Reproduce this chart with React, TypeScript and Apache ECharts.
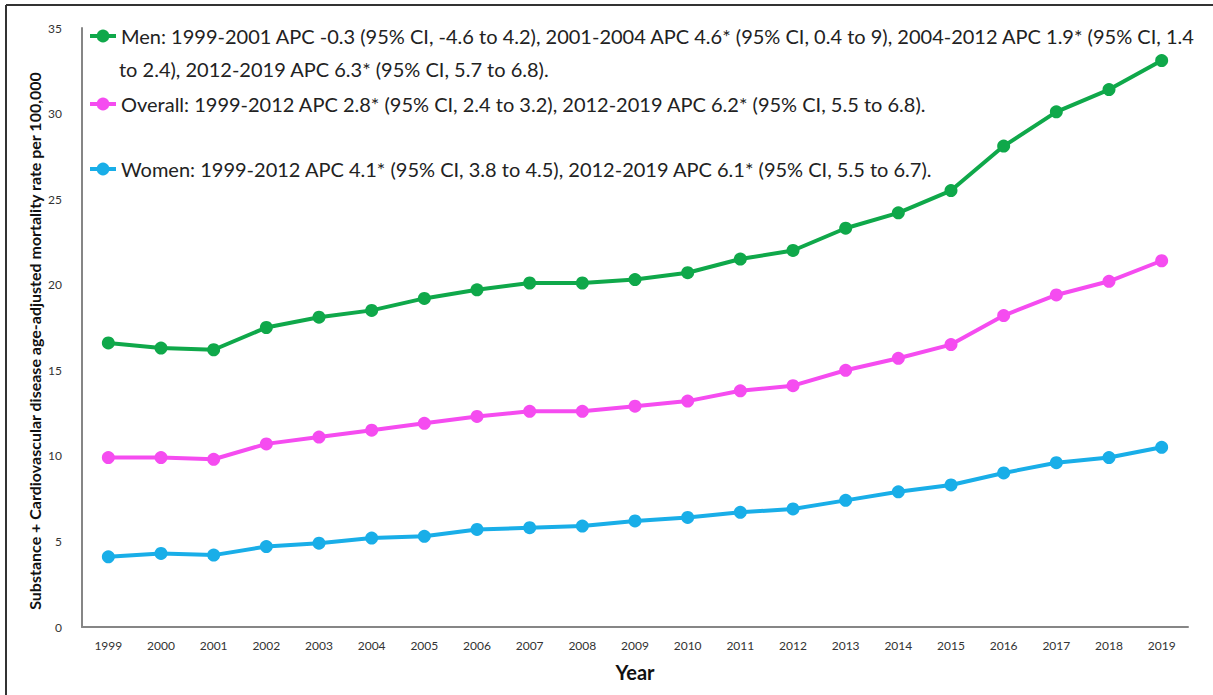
import React, { useEffect, useRef } from "react";
import * as echarts from "echarts";

const years = ["1999","2000","2001","2002","2003","2004","2005","2006","2007","2008","2009","2010","2011","2012","2013","2014","2015","2016","2017","2018","2019"];
const men = [16.6,16.3,16.2,17.5,18.1,18.5,19.2,19.7,20.1,20.1,20.3,20.7,21.5,22.0,23.3,24.2,25.5,28.1,30.1,31.4,33.1];
const overall = [9.9,9.9,9.8,10.7,11.1,11.5,11.9,12.3,12.6,12.6,12.9,13.2,13.8,14.1,15.0,15.7,16.5,18.2,19.4,20.2,21.4];
const women = [4.1,4.3,4.2,4.7,4.9,5.2,5.3,5.7,5.8,5.9,6.2,6.4,6.7,6.9,7.4,7.9,8.3,9.0,9.6,9.9,10.5];

const menLabel1 = "Men: 1999-2001 APC -0.3 (95% CI, -4.6 to 4.2), 2001-2004 APC 4.6* (95% CI, 0.4 to 9), 2004-2012 APC 1.9* (95% CI, 1.4";
const menLabel2 = "to 2.4), 2012-2019 APC 6.3* (95% CI, 5.7 to 6.8).";
const overallLabel = "Overall: 1999-2012 APC 2.8* (95% CI, 2.4 to 3.2), 2012-2019 APC 6.2* (95% CI, 5.5 to 6.8).";
const womenLabel = "Women: 1999-2012 APC 4.1* (95% CI, 3.8 to 4.5), 2012-2019 APC 6.1* (95% CI, 5.5 to 6.7).";
const yName = "Substance + Cardiovascular disease age-adjusted mortality rate per 100,000";

const FONT = "Lato";
const LEG_SIZE = 20;

export default function App() {
  const ref = useRef<HTMLDivElement>(null);
  useEffect(() => {
    document.body.style.margin = "0";
    const chart = echarts.init(ref.current!, null, { renderer: "svg" });
    const mkSeries = (name: string, data: number[], color: string) => ({
      name,
      type: "line",
      data,
      symbol: "circle",
      symbolSize: 13,
      itemStyle: { color },
      lineStyle: { color, width: 4 },
    });
    const legendCommon = {
      orient: "horizontal",
      itemWidth: 26,
      itemHeight: 16,
      selectedMode: false,
      lineStyle: { width: 4 },
      textStyle: { fontFamily: FONT, fontSize: LEG_SIZE, color: "#222" },
      padding: 0,
    };
    chart.setOption({
      animation: false,
      backgroundColor: "#fff",
      grid: { left: 82, right: 25, top: 28, bottom: 68 },
      legend: [
        { ...legendCommon, data: ["Men"], left: 88, top: 26, formatter: () => menLabel1 },
        { ...legendCommon, data: ["Overall"], left: 88, top: 94, formatter: () => overallLabel },
        { ...legendCommon, data: ["Women"], left: 88, top: 159, formatter: () => womenLabel },
      ],
      graphic: [
        { type: "line", shape: { x1: 6, y1: 5, x2: 1213, y2: 5 }, style: { stroke: "#333", lineWidth: 2 } },
        { type: "line", shape: { x1: 6, y1: 5, x2: 6, y2: 695 }, style: { stroke: "#333", lineWidth: 2 } },
        { type: "text", left: 119, top: 59, style: { text: menLabel2, font: `${LEG_SIZE}px ${FONT}`, fill: "#222" } },
        {
          type: "text",
          x: 34,
          y: 341,
          rotation: Math.PI / 2,
          style: {
            text: yName,
            font: `bold 16px ${FONT}`,
            fill: "#111",
            textAlign: "center",
            textVerticalAlign: "middle",
          },
        },
      ],
      xAxis: {
        type: "category",
        data: years,
        boundaryGap: true,
        name: "Year",
        nameLocation: "middle",
        nameGap: 35,
        nameTextStyle: { fontFamily: FONT, fontSize: 20, fontWeight: "bold", color: "#111" },
        axisLine: { lineStyle: { color: "#868686", width: 2 } },
        axisTick: { show: false },
        axisLabel: { fontFamily: FONT, fontSize: 12, color: "#333", margin: 12 },
      },
      yAxis: {
        type: "value",
        min: 0,
        max: 35,
        interval: 5,
        axisLine: { show: true, lineStyle: { color: "#868686", width: 2 } },
        axisTick: { show: false },
        splitLine: { show: false },
        axisLabel: { fontFamily: FONT, fontSize: 12, color: "#333", margin: 20 },
      },
      series: [
        mkSeries("Men", men, "#0fa84a"),
        mkSeries("Overall", overall, "#f54cf0"),
        mkSeries("Women", women, "#19aee8"),
      ],
    });
    return () => chart.dispose();
  }, []);
  return <div ref={ref} style={{ width: 1213, height: 695 }} />;
}
